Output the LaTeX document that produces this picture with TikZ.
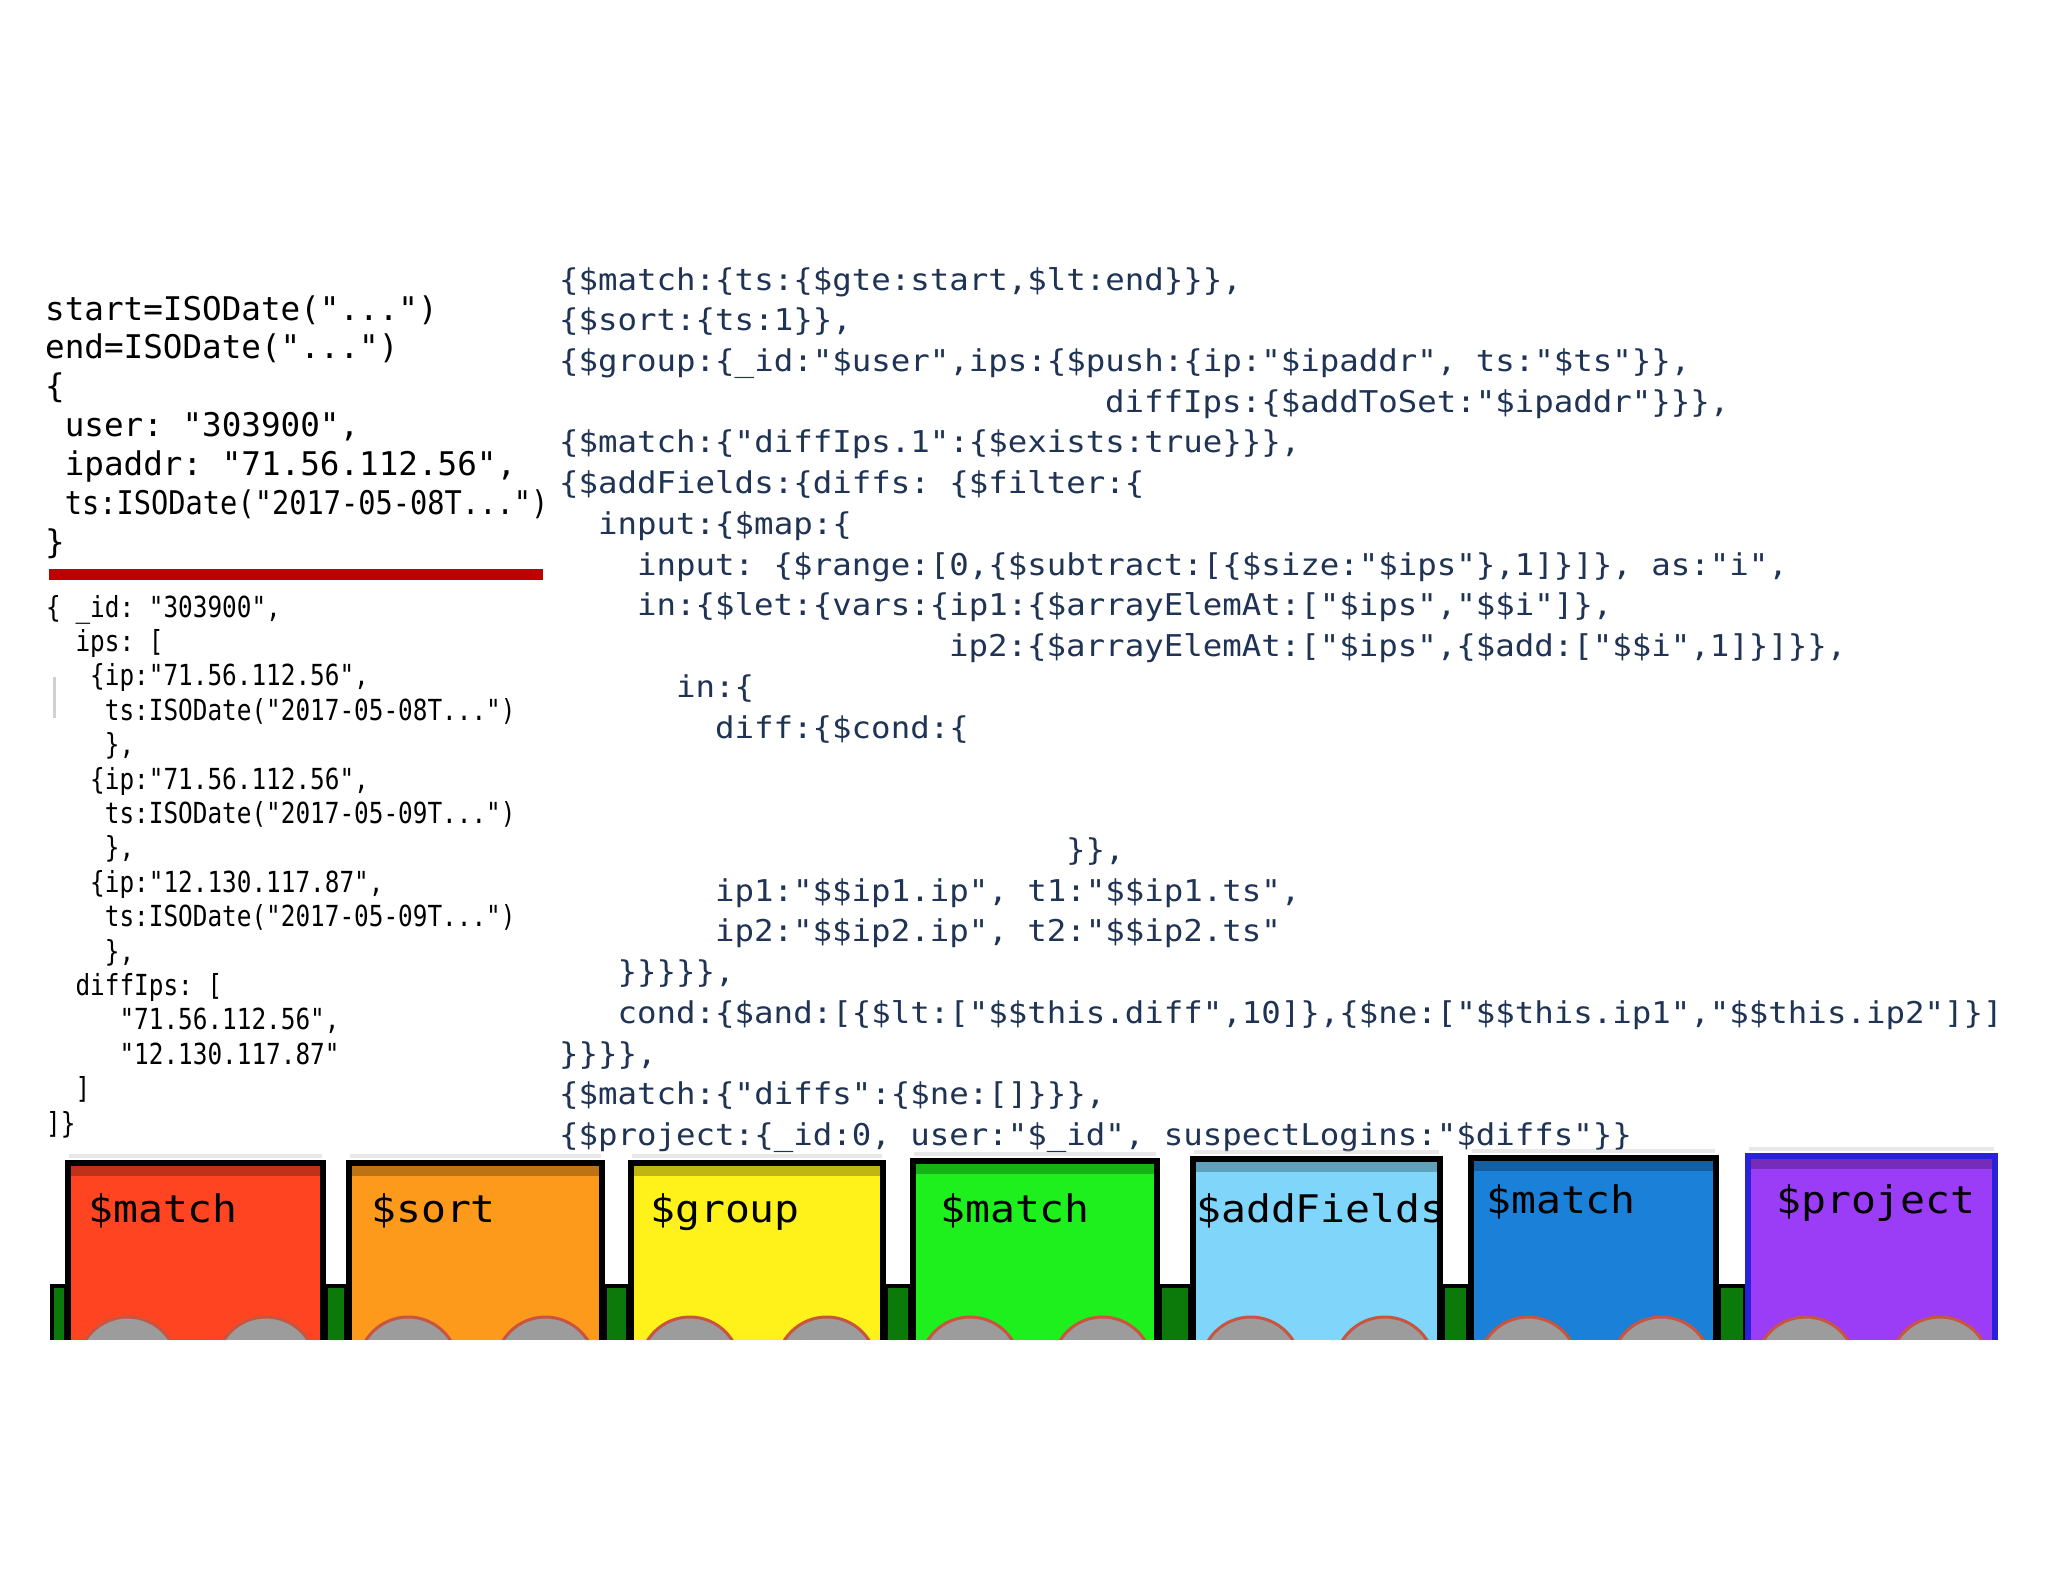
\documentclass[tikz,border=0pt]{standalone}
\usepackage{fontspec}
\frenchspacing
\newfontfamily\fA{DejaVu Sans Mono}
\newfontfamily\fN[FakeStretch=0.88]{DejaVu Sans Mono}
\newfontfamily\fB[FakeStretch=0.84]{DejaVu Sans Mono}
\newfontfamily\fR[FakeStretch=1.08]{DejaVu Sans Mono}
\newfontfamily\fL[FakeStretch=1.09]{DejaVu Sans Mono}
\definecolor{codenavy}{HTML}{1F3355}
\definecolor{redbar}{HTML}{C00000}
\definecolor{carA}{HTML}{FF4422}
\definecolor{carB}{HTML}{FD9A1C}
\definecolor{carC}{HTML}{FFF21A}
\definecolor{carD}{HTML}{1EF01E}
\definecolor{carE}{HTML}{80D6FA}
\definecolor{carF}{HTML}{1A80D8}
\definecolor{carG}{HTML}{9B3CF7}
\definecolor{bordG}{HTML}{2A22D8}
\definecolor{wheelgray}{HTML}{9C9C9C}
\definecolor{wheelrim}{HTML}{C8553F}
\definecolor{couplergreen}{HTML}{0B7A0B}
\tikzset{
  codeA/.style={anchor=base west, inner sep=0pt, text=black, font=\fA\fontsize{32.6}{39}\selectfont\frenchspacing},
  codeN/.style={anchor=base west, inner sep=0pt, text=black, font=\fN\fontsize{32.6}{39}\selectfont\frenchspacing},
  codeB/.style={anchor=base west, inner sep=0pt, text=black, font=\fB\fontsize{29}{34}\selectfont\frenchspacing},
  codeR/.style={anchor=base west, inner sep=0pt, text=codenavy, font=\fR\fontsize{30}{40}\selectfont\frenchspacing},
  carlabel/.style={anchor=base west, inner sep=0pt, text=black, font=\fL\fontsize{38}{48}\selectfont},
  carbody/.style={line width=6pt},
  wheel/.style={fill=wheelgray, draw=wheelrim, line width=3pt},
  coupler/.style={fill=couplergreen, draw=black, line width=4pt},
  shade/.style={draw=black!25, line width=4pt, opacity=0.35}
}
\newcommand\lineA[4]{\node[codeA] (#1) at ({45+#2*19.6},{320+#3*38.96}) {#4};}
\newcommand\lineB[4]{\node[codeB] (#1) at ({46+#2*14.67},{617+#3*34.4}) {#4};}
\newcommand\lineR[4]{\node[codeR] (#1) at ({559+#2*19.5},{290+#3*40.74}) {#4};}
\begin{document}
\begin{tikzpicture}[x=1pt,y=-1pt]
\useasboundingbox (0,0) rectangle (2048,1582);
\fill[white] (0,0) rectangle (2048,1582);

% ---- left block 1 ----
\lineA{a0}{0}{0}{start=ISODate("...")}
\lineA{a1}{0}{1}{end=ISODate("...")}
\lineA{a2}{0}{2}{\{}
\lineA{a3}{1}{3}{user: "303900",}
\lineA{a4}{1}{4}{ipaddr: "71.56.112.56",}
\node[codeN] (a5) at ({45+19.6},{320+5*38.96}) {ts:ISODate("2017-05-08T...")};
\lineA{a6}{0}{6}{\}}
\fill[redbar] (49,569) rectangle (543,580);

% ---- left block 2 ----
\lineB{b0}{0}{0}{\{ \_id: "303900",}
\lineB{b1}{2}{1}{ips: [}
\lineB{b2}{3}{2}{\{ip:"71.56.112.56",}
\lineB{b3}{4}{3}{ts:ISODate("2017-05-08T...")}
\lineB{b4}{4}{4}{\},}
\lineB{b5}{3}{5}{\{ip:"71.56.112.56",}
\lineB{b6}{4}{6}{ts:ISODate("2017-05-09T...")}
\lineB{b7}{4}{7}{\},}
\lineB{b8}{3}{8}{\{ip:"12.130.117.87",}
\lineB{b9}{4}{9}{ts:ISODate("2017-05-09T...")}
\lineB{b10}{4}{10}{\},}
\lineB{b11}{2}{11}{diffIps: [}
\lineB{b12}{5}{12}{"71.56.112.56",}
\lineB{b13}{5}{13}{"12.130.117.87"}
\lineB{b14}{2}{14}{]}
\lineB{b15}{0}{15}{]\}}
\draw[black!18, line width=3pt] (54,677) -- (54,718);

% ---- right code ----
\lineR{r0}{0}{0}{\{\$match:\{ts:\{\$gte:start,\$lt:end\}\}\},}
\lineR{r1}{0}{1}{\{\$sort:\{ts:1\}\},}
\lineR{r2}{0}{2}{\{\$group:\{\_id:"\$user",ips:\{\$push:\{ip:"\$ipaddr", ts:"\$ts"\}\},}
\lineR{r3}{28}{3}{diffIps:\{\$addToSet:"\$ipaddr"\}\}\},}
\lineR{r4}{0}{4}{\{\$match:\{"diffIps.1":\{\$exists:true\}\}\},}
\lineR{r5}{0}{5}{\{\$addFields:\{diffs: \{\$filter:\{}
\lineR{r6}{2}{6}{input:\{\$map:\{}
\lineR{r7}{4}{7}{input: \{\$range:[0,\{\$subtract:[\{\$size:"\$ips"\},1]\}]\}, as:"i",}
\lineR{r8}{4}{8}{in:\{\$let:\{vars:\{ip1:\{\$arrayElemAt:["\$ips","\$\$i"]\},}
\lineR{r9}{20}{9}{ip2:\{\$arrayElemAt:["\$ips",\{\$add:["\$\$i",1]\}]\}\},}
\lineR{r10}{6}{10}{in:\{}
\lineR{r11}{8}{11}{diff:\{\$cond:\{}
\lineR{r14}{26}{14}{\}\},}
\lineR{r15}{8}{15}{ip1:"\$\$ip1.ip", t1:"\$\$ip1.ts",}
\lineR{r16}{8}{16}{ip2:"\$\$ip2.ip", t2:"\$\$ip2.ts"}
\lineR{r17}{3}{17}{\}\}\}\}\},}
\lineR{r18}{3}{18}{cond:\{\$and:[\{\$lt:["\$\$this.diff",10]\},\{\$ne:["\$\$this.ip1","\$\$this.ip2"]\}]}
\lineR{r19}{0}{19}{\}\}\}\},}
\lineR{r20}{0}{20}{\{\$match:\{"diffs":\{\$ne:[]\}\}\},}
\lineR{r21}{0}{21}{\{\$project:\{\_id:0, user:"\$\_id", suspectLogins:"\$diffs"\}\}}

% ---- pipeline train ----
\begin{scope}
\clip (0,0) rectangle (2048,1339);
\foreach \a/\b in {52/66, 326/346, 605/628, 886/910, 1160/1190, 1443/1468, 1719/1745}
  \draw[coupler] (\a,1286) rectangle (\b,1360);
\foreach \i/\xa/\xb/\yt/\col/\bc/\lx/\ly/\lab in {
  1/65/326/1160/carA/black/88/1222/\$match,
  2/346/605/1160/carB/black/371/1222/\$sort,
  3/628/886/1160/carC/black/650/1222/\$group,
  4/910/1160/1158/carD/black/940/1222/\$match,
  5/1190/1443/1156/carE/black/1196/1222/\$addFields,
  6/1468/1719/1155/carF/black/1486/1213/\$match,
  7/1745/1998/1153/carG/bordG/1776/1213/\$project}
{
  \draw[shade] (\xa+4,\yt-4) -- (\xb-4,\yt-4);
  \fill[\col] (\xa,\yt) rectangle (\xb,1360);
  \fill[black, opacity=0.25] (\xa,\yt) rectangle (\xb,\yt+16);
  \draw[wheel] ({\xa+0.24*(\xb-\xa)},1367) circle (50);
  \draw[wheel] ({\xa+0.77*(\xb-\xa)},1367) circle (50);
  \draw[carbody, draw=\bc] (\xa+3,1370) -- (\xa+3,\yt+3) -- (\xb-3,\yt+3) -- (\xb-3,1370);
  \node[carlabel] (lab\i) at (\lx,\ly) {\lab};
}
\end{scope}
\end{tikzpicture}
\end{document}
